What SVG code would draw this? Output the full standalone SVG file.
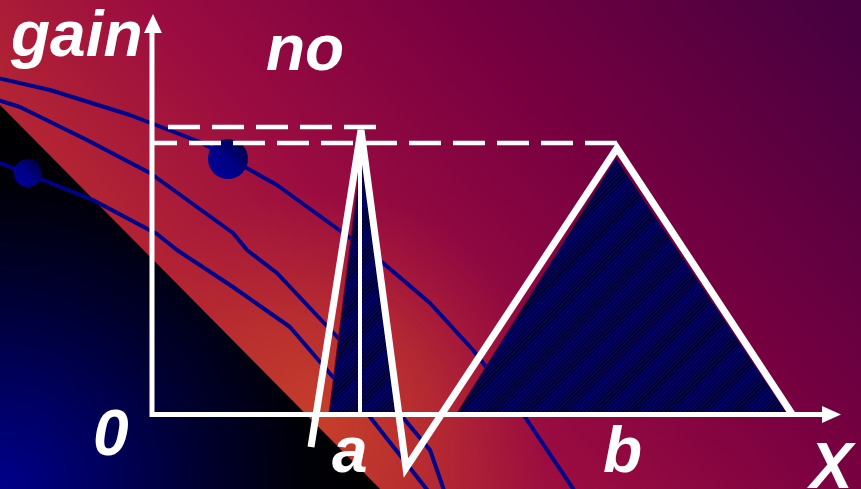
<svg xmlns="http://www.w3.org/2000/svg" width="861" height="489" viewBox="0 0 861 489">
  <defs>
    <linearGradient id="bgLin" gradientUnits="userSpaceOnUse" x1="150" y1="330" x2="700" y2="-150">
      <stop offset="0" stop-color="#b82a30"/>
      <stop offset="0.3" stop-color="#9a0c40"/>
      <stop offset="0.6" stop-color="#780040"/>
      <stop offset="1" stop-color="#480040"/>
    </linearGradient>
    <radialGradient id="glow" gradientUnits="userSpaceOnUse" cx="320" cy="420" r="230">
      <stop offset="0" stop-color="#c8402a" stop-opacity="0.95"/>
      <stop offset="0.5" stop-color="#c23a2a" stop-opacity="0.55"/>
      <stop offset="1" stop-color="#b82a30" stop-opacity="0"/>
    </radialGradient>
    <radialGradient id="darkGrad" gradientUnits="userSpaceOnUse" cx="0" cy="489" r="380">
      <stop offset="0" stop-color="#00008c"/>
      <stop offset="0.26" stop-color="#000060"/>
      <stop offset="0.53" stop-color="#000030"/>
      <stop offset="0.8" stop-color="#000008"/>
      <stop offset="1" stop-color="#000000"/>
    </radialGradient>
    <linearGradient id="dotGrad" x1="0" y1="1" x2="1" y2="0">
      <stop offset="0" stop-color="#00009c"/>
      <stop offset="0.5" stop-color="#000084"/>
      <stop offset="1" stop-color="#000030"/>
    </linearGradient>
    <pattern id="hatch" patternUnits="userSpaceOnUse" width="3" height="3" patternTransform="rotate(45)">
      <rect x="0" y="0" width="3" height="3" fill="#000000"/>
      <rect x="0" y="0" width="1.5" height="3" fill="#00009c"/>
    </pattern>
  </defs>
  <style>
    .curve { fill: none; stroke: #00008b; stroke-width: 4; stroke-linejoin: round; stroke-linecap: round; }
    .axis { fill: none; stroke: #ffffff; stroke-width: 5; }
    .dash { fill: none; stroke: #ffffff; stroke-width: 4.5; }
    .leg { fill: none; stroke: #ffffff; stroke-width: 7; stroke-linejoin: miter; stroke-miterlimit: 4; }
    .hatchfill { fill: url(#hatch); stroke: #6a0030; stroke-width: 1; }
    .lbl { font-family: "Liberation Sans", Arial, sans-serif; font-weight: bold; font-style: italic; font-size: 64px; fill: #ffffff; }
    .dot { fill: url(#dotGrad); }
  </style>

  <g id="background">
    <rect x="0" y="0" width="861" height="489" fill="url(#bgLin)"/>
    <rect x="0" y="0" width="861" height="489" fill="url(#glow)"/>
    <polygon points="0,105 0,489 380,489" fill="url(#darkGrad)"/>
  </g>

  <g id="curves">
    <path class="curve" d="M-2,78 L50,90 L130,115 L200,142 L277,185 L353,240 L383,263 L430,303 L473,350 L525,417 L578,496"/>
    <path class="curve" d="M-2,100 L20,107 L87,140 L150,173 L233,233 L247,250 L277,273 L340,340 L400,414 L430,450 L446,496"/>
    <path class="curve" d="M-2,162 L43,180 L93,200 L157,234 L177,250 L233,287 L290,327 L333,377 L370,417 L432,496"/>
  </g>

  <g id="dots">
    <circle class="dot" cx="228" cy="159" r="20"/>
    <circle class="dot" cx="28" cy="173" r="14"/>
  </g>

  <g id="area-a">
    <polygon class="hatchfill" points="362,150 329,414 396,414"/>
  </g>
  <g id="area-b">
    <polygon class="hatchfill" points="616,158 457,413 787,413"/>
  </g>

  <g id="axes">
    <path class="axis" d="M152,32 V414.5 H824"/>
    <polygon points="153,14 144,33 162,33" fill="#ffffff"/>
    <polygon points="841,414.5 822,406 822,423" fill="#ffffff"/>
  </g>

  <g id="dashed-lines">
    <line class="dash" x1="168" y1="127" x2="376" y2="127" stroke-dasharray="32 12"/>
    <line class="dash" x1="152" y1="143" x2="617" y2="143" stroke-dasharray="32 12" stroke-dashoffset="7"/>
  </g>

  <g id="membership-lines">
    <polyline class="leg" points="311,447 361,130 406,468 617,148 792,414"/>
    <line x1="360" y1="135" x2="360" y2="414" stroke="#ffffff" stroke-width="4"/>
  </g>

  <g id="labels">
    <text class="lbl" x="11" y="56">gain</text>
    <text class="lbl" x="266" y="70">no</text>
    <text class="lbl" x="93" y="455">0</text>
    <text class="lbl" x="332" y="472">a</text>
    <text class="lbl" x="603" y="472">b</text>
    <text class="lbl" x="810" y="488">X</text>
  </g>
</svg>
